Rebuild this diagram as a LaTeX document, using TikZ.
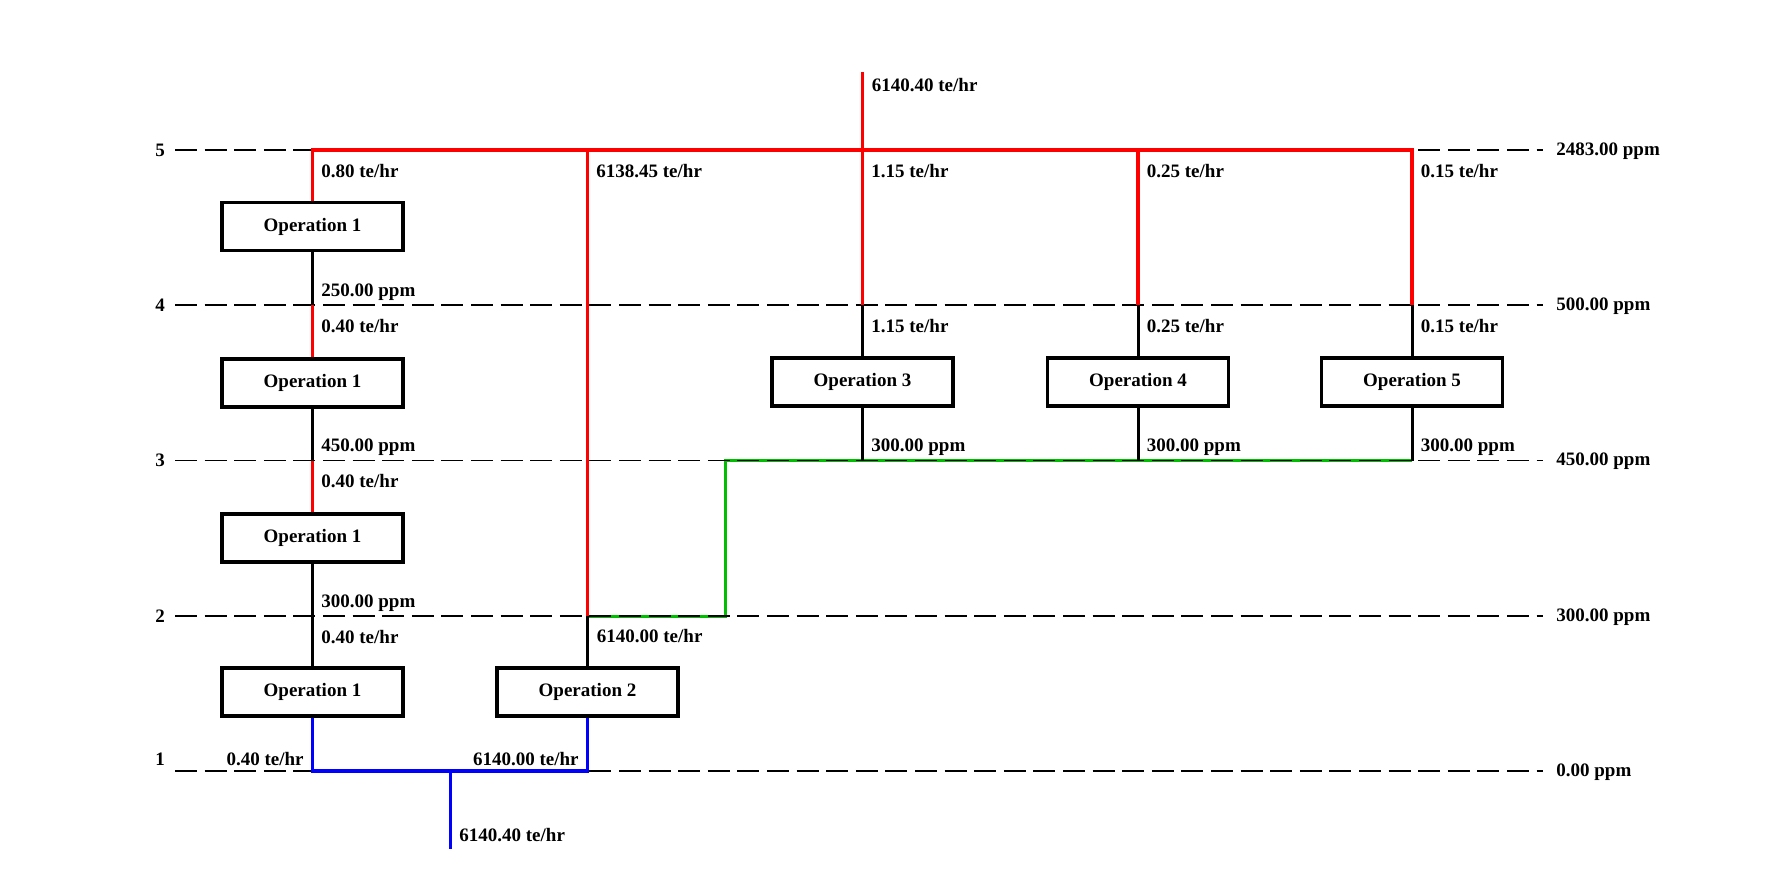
\documentclass[tikz,border=0pt]{standalone}
\usepackage{fontspec}
\setmainfont{Liberation Serif}
\begin{document}
\begin{tikzpicture}[x=0.5pt,y=-0.5pt,
  every node/.style={font=\fontsize{9.5}{11}\selectfont\bfseries},
  opbox/.style={draw, line width=1.6pt, minimum width=90.5pt, minimum height=24pt, inner sep=0pt, fill=white},
  lvl/.style={draw=black, line width=0.8pt, dash pattern=on 11pt off 3.8pt},
  hot/.style={draw=red, line width=1.6pt},
  cold/.style={draw=blue, line width=1.6pt},
  mix/.style={draw=green!75!black, line width=1.5pt},
  blk/.style={draw=black, line width=1.5pt},
  lbl/.style={anchor=west, inner sep=0pt},
  lbr/.style={anchor=east, inner sep=0pt},
]
\useasboundingbox (0,0) rectangle (1780,873);

% levels
\coordinate (L5s) at (175,150);   \coordinate (L5e) at (1543,150);
\coordinate (L4s) at (175,305);   \coordinate (L4e) at (1543,305);
\coordinate (L3s) at (175,460.5); \coordinate (L3e) at (1543,460.5);
\coordinate (L2s) at (175,616);   \coordinate (L2e) at (1543,616);
\coordinate (L1s) at (175,771);   \coordinate (L1e) at (1543,771);

% column/level junctions
\coordinate (C1L5) at (312.5,150);
\coordinate (C1L4) at (312.5,305);
\coordinate (C1L3) at (312.5,460.5);
\coordinate (C1L1) at (312.5,771);
\coordinate (C2L5) at (587.5,150);
\coordinate (C2L2) at (587.5,616);
\coordinate (C2L1) at (587.5,771);
\coordinate (C3L4) at (862.5,305);
\coordinate (C3L3) at (862.5,460.5);
\coordinate (C4L5) at (1138,150);
\coordinate (C4L4) at (1138,305);
\coordinate (C4L3) at (1138,460.5);
\coordinate (C5L5) at (1412,150);
\coordinate (C5L4) at (1412,305);
\coordinate (C5L3) at (1412,460.5);
\coordinate (G1) at (725,616);
\coordinate (G2) at (725,460.5);
\coordinate (topin) at (862.5,72);
\coordinate (J) at (450.5,771);
\coordinate (botout) at (450.5,849);

% boxes
\node[opbox] (op1a) at (312.5,226.5) {Operation 1};
\node[opbox] (op1b) at (312.5,383) {Operation 1};
\node[opbox] (op1c) at (312.5,538) {Operation 1};
\node[opbox] (op1d) at (312.5,692) {Operation 1};
\node[opbox] (op2) at (587.5,692) {Operation 2};
\node[opbox] (op3) at (862.5,382) {Operation 3};
\node[opbox] (op4) at (1138,382) {Operation 4};
\node[opbox] (op5) at (1412,382) {Operation 5};

% green (under dashes)
\draw[mix] (C2L2) -- (G1) -- (G2) -- (C5L3);

% dashed concentration levels
\draw[lvl] (L5s) -- (L5e);
\draw[lvl] (L4s) -- (L4e);
\draw[lvl] (L3s) -- (L3e);
\draw[lvl] (L2s) -- (L2e);
\draw[lvl] (L1s) -- (L1e);

% red
\draw[hot] (op1a.north) -- (C1L5) -- (C5L5) -- (C5L4);
\draw[hot] (C2L5) -- (C2L2);
\draw[hot] (topin) -- (C3L4);
\draw[hot] (C4L5) -- (C4L4);
\draw[hot] (C1L4) -- (op1b.north);
\draw[hot] (C1L3) -- (op1c.north);

% black
\draw[blk] (op1a.south) -- (C1L4);
\draw[blk] (op1b.south) -- (C1L3);
\draw[blk] (op1c.south) -- (op1d.north);
\draw[blk] (C2L2) -- (op2.north);
\draw[blk] (C3L4) -- (op3.north);
\draw[blk] (op3.south) -- (C3L3);
\draw[blk] (C4L4) -- (op4.north);
\draw[blk] (op4.south) -- (C4L3);
\draw[blk] (C5L4) -- (op5.north);
\draw[blk] (op5.south) -- (C5L3);

% blue
\draw[cold] (op1d.south) -- (C1L1) -- (C2L1) -- (op2.south);
\draw[cold] (J) -- (botout);

% level numbers
\node (n5) at (160,150) {5};
\node (n4) at (160,305) {4};
\node (n3) at (160,460.5) {3};
\node (n2) at (160,616) {2};
\node (n1) at (160,759) {1};

% right ppm labels
\node[lbl] (r5) at (1556,151) {2483.00 ppm};
\node[lbl] (r4) at (1556,306) {500.00 ppm};
\node[lbl] (r3) at (1556,461.5) {450.00 ppm};
\node[lbl] (r2) at (1556,617) {300.00 ppm};
\node[lbl] (r1) at (1556,772) {0.00 ppm};

% flow labels
\node[lbl] (t0) at (871.5,85) {6140.40 te/hr};
\node[lbl] (a5) at (321,171) {0.80 te/hr};
\node[lbl] (b5) at (596,171) {6138.45 te/hr};
\node[lbl] (c5) at (871,171) {1.15 te/hr};
\node[lbl] (d5) at (1146.5,171) {0.25 te/hr};
\node[lbl] (e5) at (1420.5,171) {0.15 te/hr};

\node[lbl] (a4u) at (321,292) {250.00 ppm};
\node[lbl] (a4) at (321,326) {0.40 te/hr};
\node[lbl] (c4) at (871,326) {1.15 te/hr};
\node[lbl] (d4) at (1146.5,326) {0.25 te/hr};
\node[lbl] (e4) at (1420.5,326) {0.15 te/hr};

\node[lbl] (a3u) at (321,447.5) {450.00 ppm};
\node[lbl] (a3) at (321,481.5) {0.40 te/hr};
\node[lbl] (c3) at (871,447.5) {300.00 ppm};
\node[lbl] (d3) at (1146.5,447.5) {300.00 ppm};
\node[lbl] (e3) at (1420.5,447.5) {300.00 ppm};

\node[lbl] (a2u) at (321,603) {300.00 ppm};
\node[lbl] (a2) at (321,637) {0.40 te/hr};
\node[lbl] (b2) at (596.5,636) {6140.00 te/hr};

\node[lbr] (a1) at (304,759) {0.40 te/hr};
\node[lbr] (b1) at (579,759) {6140.00 te/hr};
\node[lbl] (bot) at (459,835) {6140.40 te/hr};
\end{tikzpicture}
\end{document}
